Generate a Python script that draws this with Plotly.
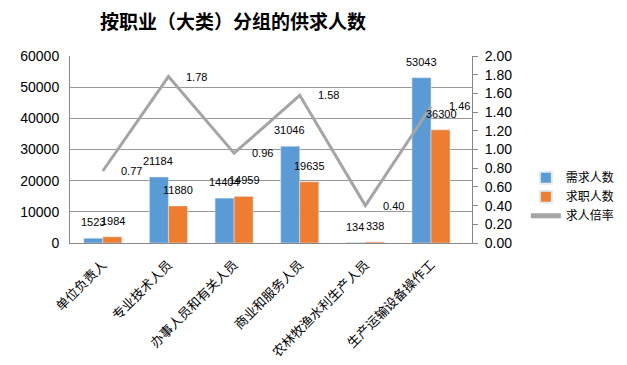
import plotly.graph_objects as go

categories = ["单位负责人", "专业技术人员", "办事人员和有关人员", "商业和服务人员", "农林牧渔水利生产人员", "生产运输设备操作工"]
demand = [1523, 21184, 14404, 31046, 134, 53043]
supply = [1984, 11880, 14959, 19635, 338, 36300]
ratio = [0.77, 1.78, 0.96, 1.58, 0.40, 1.46]

FONT = "Liberation Sans, Noto Sans CJK SC, sans-serif"
CJK = "Noto Sans CJK SC, sans-serif"
BLUE = "#5B9BD5"
ORANGE = "#ED7D31"
GRAY = "#A5A5A5"

fig = go.Figure()
fig.add_trace(go.Bar(x=categories, y=demand, name="需求人数", marker_color=BLUE, yaxis="y"))
fig.add_trace(go.Bar(x=categories, y=supply, name="求职人数", marker_color=ORANGE, yaxis="y"))
fig.add_trace(go.Scatter(x=categories, y=ratio, name="求人倍率", mode="lines",
                         line=dict(color=GRAY, width=3), yaxis="y2"))

annotations = []
for c, d, s, r in zip(categories, demand, supply, ratio):
    annotations.append(dict(x=c, y=d, xref="x", yref="y", text=str(d), showarrow=False,
                            xshift=-10, yshift=16, font=dict(family=FONT, size=11, color="#000")))
    annotations.append(dict(x=c, y=s, xref="x", yref="y", text=str(s), showarrow=False,
                            xshift=10, yshift=16, font=dict(family=FONT, size=11, color="#000")))
    annotations.append(dict(x=c, y=r, xref="x", yref="y2", text=f"{r:.2f}", showarrow=False,
                            xanchor="left", xshift=16, font=dict(family=FONT, size=11, color="#000")))

fig.update_layout(
    width=627, height=365,
    margin=dict(l=54, r=163, t=48, b=130),
    paper_bgcolor="white", plot_bgcolor="white",
    title=dict(text="<b>按职业（大类）分组的供求人数</b>", x=225 / 627, xanchor="center",
               y=1 - 14 / 365, yanchor="middle", font=dict(family=CJK, size=19, color="#000")),
    barmode="group", bargap=0.42, bargroupgap=0,
    font=dict(family=FONT, color="#000"),
    xaxis=dict(tickangle=-45, tickfont=dict(family=CJK, size=13, color="#000"),
               showline=True, linecolor="#888", linewidth=1, ticks="", ticklabelstandoff=8),
    yaxis=dict(range=[0, 60000], dtick=10000, tickformat="d", showgrid=True, gridcolor="#999",
               showline=True, linecolor="#888", linewidth=1, zeroline=False,
               tickfont=dict(family=FONT, size=14, color="#000"), ticks="", ticklabelstandoff=7),
    yaxis2=dict(range=[0, 2], dtick=0.2, tickformat=".2f", overlaying="y", side="right",
                showgrid=False, showline=True, linecolor="#888", linewidth=1, zeroline=False,
                ticks="outside", ticklen=5, tickcolor="#888", ticklabelstandoff=4,
                tickfont=dict(family=FONT, size=14, color="#000")),
    legend=dict(x=1.134, xanchor="left", y=0.427, yanchor="top", font=dict(family=CJK, size=12),
                bgcolor="rgba(0,0,0,0)", tracegroupgap=0, itemsizing="constant"),
    annotations=annotations,
)

fig.write_html("out.html")
